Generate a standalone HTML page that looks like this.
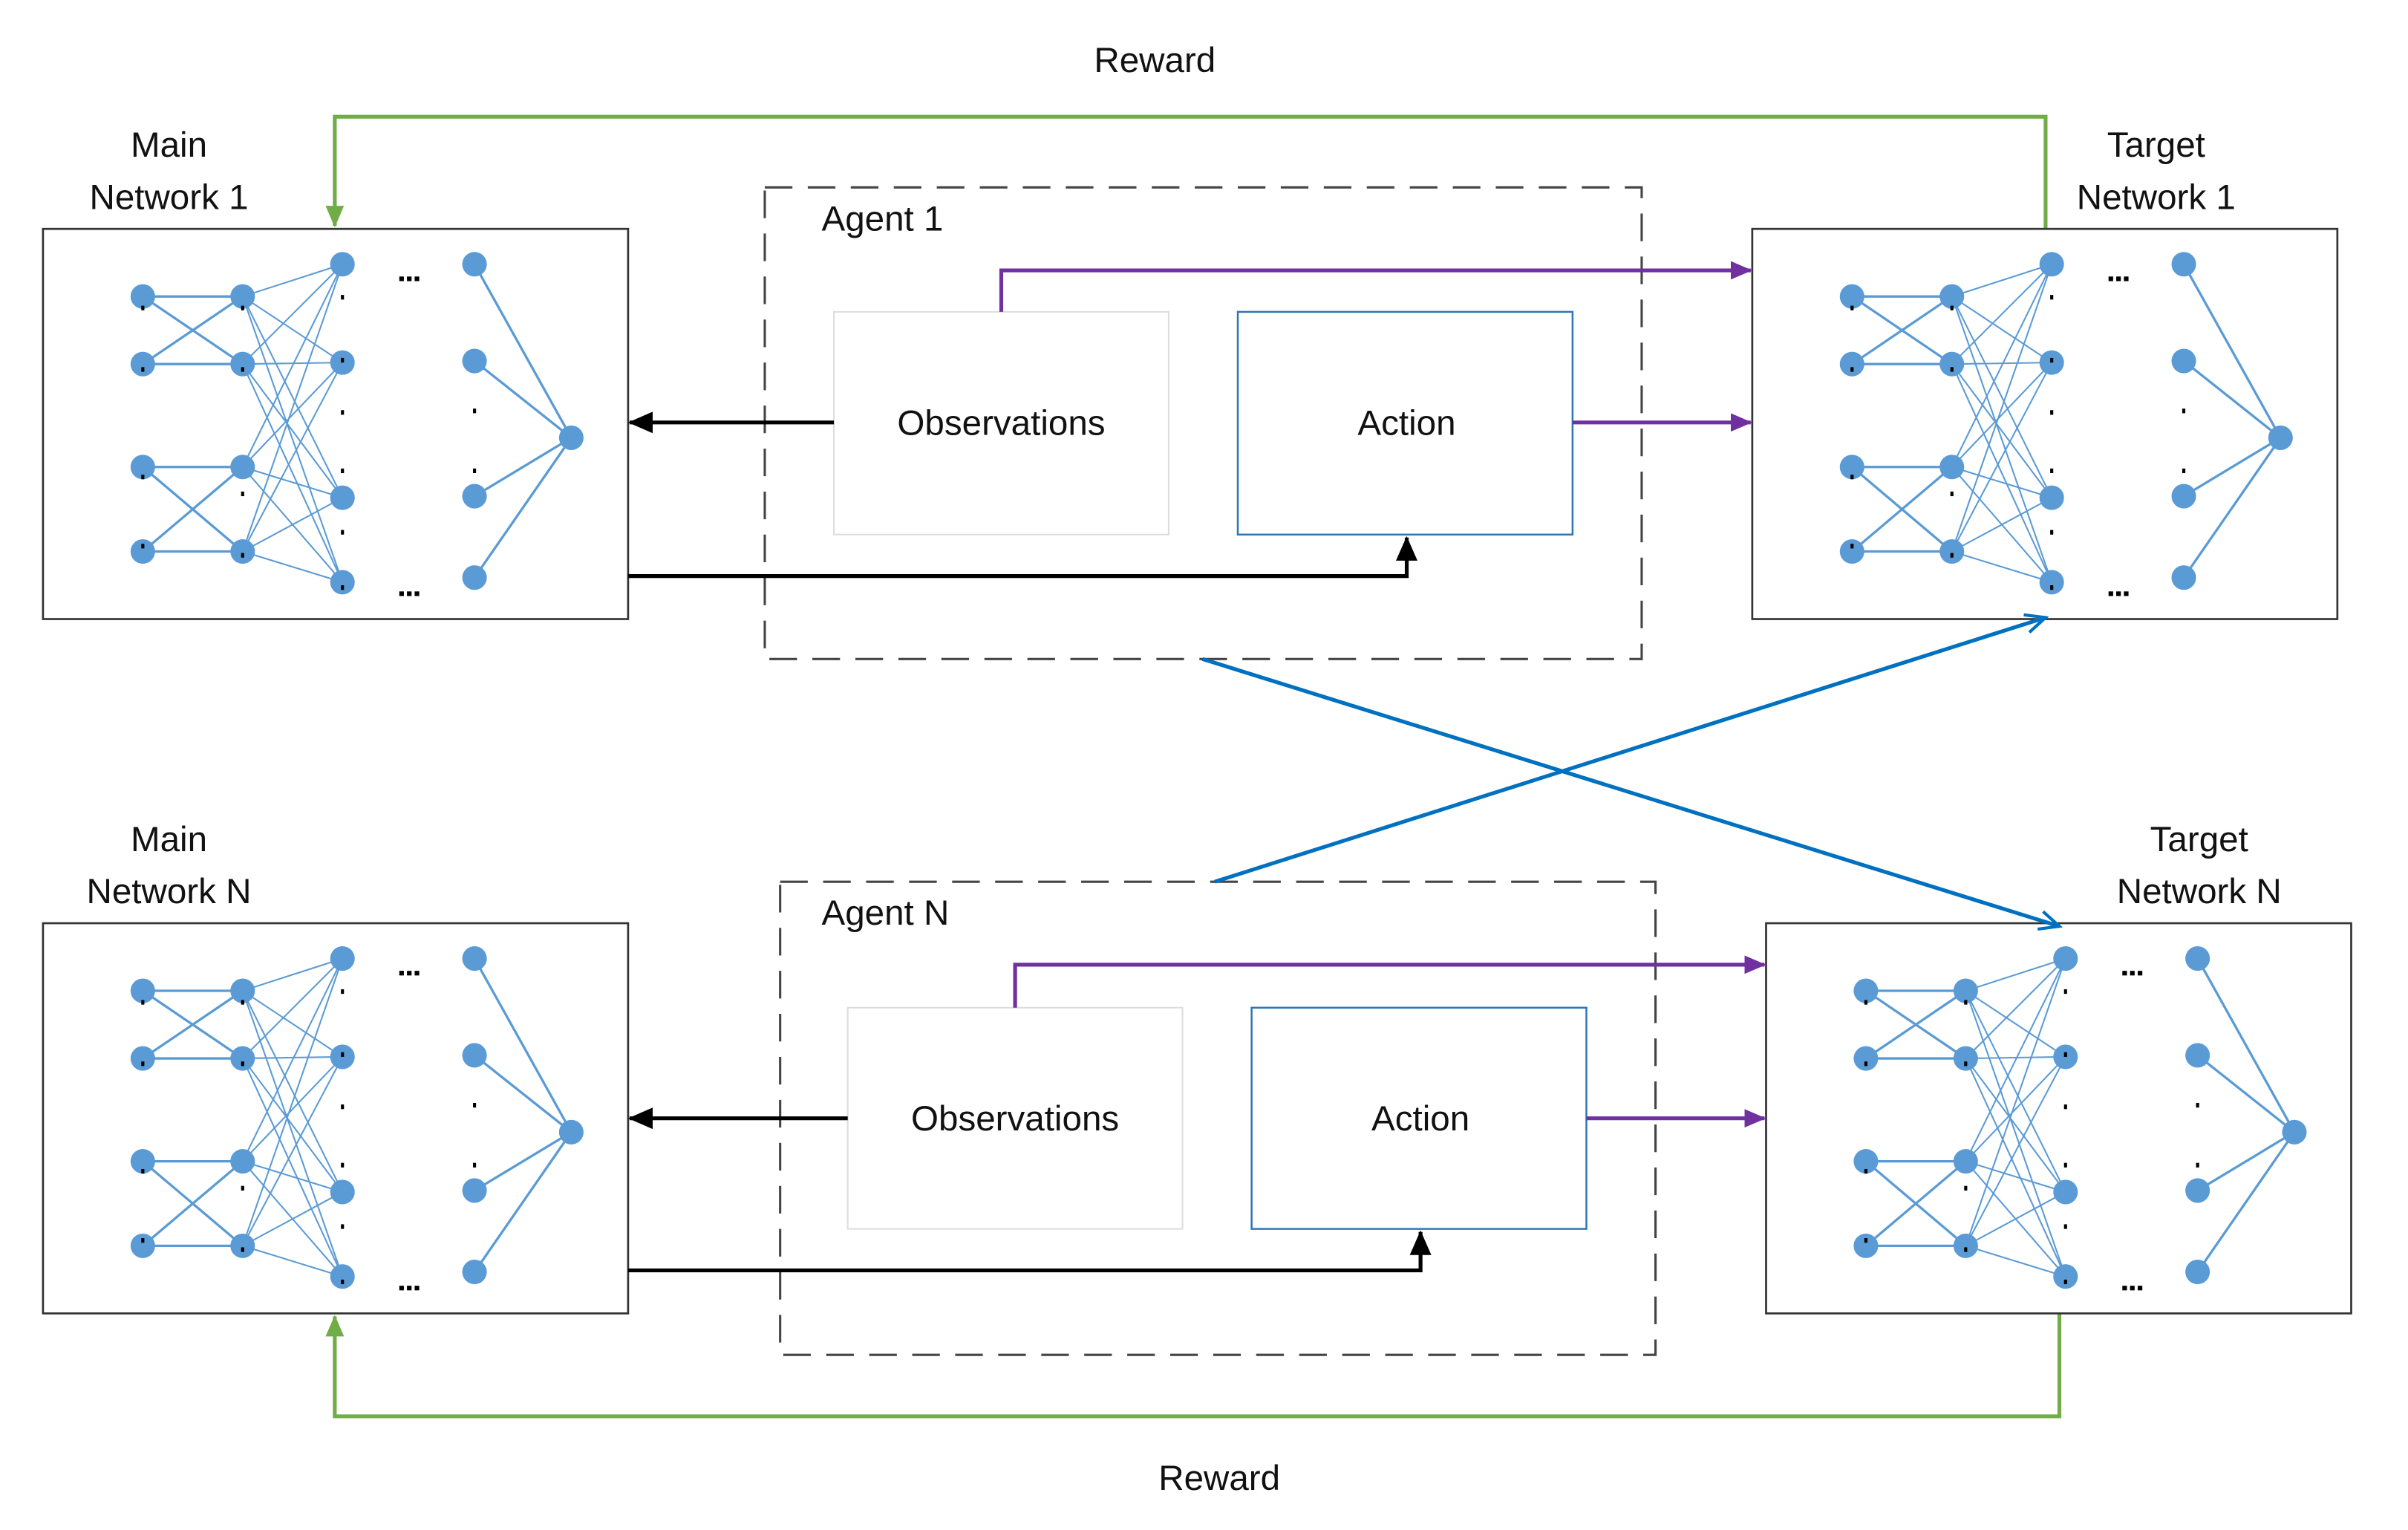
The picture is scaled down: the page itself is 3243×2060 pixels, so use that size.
<!DOCTYPE html>
<html><head><meta charset="utf-8"><style>
html,body{margin:0;padding:0;background:#fff;}
svg{display:block;}
text{font-family:"Liberation Sans",sans-serif;font-size:23px;fill:#111;}
</style></head><body>
<svg width="3243" height="2060" viewBox="0 0 1568 996" xmlns="http://www.w3.org/2000/svg">
<defs>
<marker id="ap" markerWidth="14" markerHeight="12" refX="13" refY="6" orient="auto" markerUnits="userSpaceOnUse"><path d="M0,0 L14,6 L0,12 z" fill="#7030a0"/></marker>
<marker id="ag" markerWidth="14" markerHeight="12" refX="13" refY="6" orient="auto" markerUnits="userSpaceOnUse"><path d="M0,0 L14,6 L0,12 z" fill="#70ad47"/></marker>
<marker id="abk" markerWidth="16" markerHeight="14" refX="15" refY="7" orient="auto" markerUnits="userSpaceOnUse"><path d="M0,0 L16,7 L0,14 z" fill="#000"/></marker>
<marker id="abl" markerWidth="16" markerHeight="14" refX="14" refY="7" orient="auto" markerUnits="userSpaceOnUse"><path d="M1,1 L14,7 L1,13" fill="none" stroke="#0070c0" stroke-width="2"/></marker>
<g id="net">
<rect x="0" y="0" width="381" height="254" fill="#fff" stroke="#333" stroke-width="1.3"/>
<g stroke="#5b9bd5" stroke-width="1.6">
<line x1="65" y1="44" x2="130" y2="44"/><line x1="65" y1="44" x2="130" y2="88"/><line x1="65" y1="88" x2="130" y2="44"/><line x1="65" y1="88" x2="130" y2="88"/>
<line x1="65" y1="155" x2="130" y2="155"/><line x1="65" y1="155" x2="130" y2="210"/><line x1="65" y1="210" x2="130" y2="155"/><line x1="65" y1="210" x2="130" y2="210"/>
<line x1="281" y1="23" x2="344" y2="136"/><line x1="281" y1="86" x2="344" y2="136"/><line x1="281" y1="174" x2="344" y2="136"/><line x1="281" y1="227" x2="344" y2="136"/>
</g>
<g stroke="#5b9bd5" stroke-width="1">
<line x1="130" y1="44" x2="195" y2="23"/><line x1="130" y1="44" x2="195" y2="87"/><line x1="130" y1="44" x2="195" y2="175"/><line x1="130" y1="44" x2="195" y2="230"/>
<line x1="130" y1="88" x2="195" y2="23"/><line x1="130" y1="88" x2="195" y2="87"/><line x1="130" y1="88" x2="195" y2="175"/><line x1="130" y1="88" x2="195" y2="230"/>
<line x1="130" y1="155" x2="195" y2="23"/><line x1="130" y1="155" x2="195" y2="87"/><line x1="130" y1="155" x2="195" y2="175"/><line x1="130" y1="155" x2="195" y2="230"/>
<line x1="130" y1="210" x2="195" y2="23"/><line x1="130" y1="210" x2="195" y2="87"/><line x1="130" y1="210" x2="195" y2="175"/><line x1="130" y1="210" x2="195" y2="230"/>
</g>
<g fill="#5b9bd5">
<circle cx="65" cy="44" r="8"/><circle cx="65" cy="88" r="8"/><circle cx="65" cy="155" r="8"/><circle cx="65" cy="210" r="8"/>
<circle cx="130" cy="44" r="8"/><circle cx="130" cy="88" r="8"/><circle cx="130" cy="155" r="8"/><circle cx="130" cy="210" r="8"/>
<circle cx="195" cy="23" r="8"/><circle cx="195" cy="87" r="8"/><circle cx="195" cy="175" r="8"/><circle cx="195" cy="230" r="8"/>
<circle cx="281" cy="23" r="8"/><circle cx="281" cy="86" r="8"/><circle cx="281" cy="174" r="8"/><circle cx="281" cy="227" r="8"/>
<circle cx="344" cy="136" r="8"/>
</g>
<g fill="#000">
<rect x="64" y="50" width="2" height="3"/><rect x="64" y="90" width="2" height="3"/><rect x="64" y="160" width="2" height="3"/><rect x="64" y="205" width="2" height="3"/>
<rect x="129" y="50" width="2" height="3"/><rect x="129" y="90" width="2" height="3"/><rect x="129" y="171" width="2" height="3"/><rect x="129" y="211" width="2" height="3"/>
<rect x="194" y="43" width="2" height="3"/><rect x="194" y="84" width="2" height="3"/><rect x="194" y="118" width="2" height="3"/><rect x="194" y="156" width="2" height="3"/><rect x="194" y="196" width="2" height="3"/><rect x="194" y="232" width="2" height="3"/>
<rect x="280" y="117" width="2" height="3"/><rect x="280" y="156" width="2" height="3"/>
<rect x="232" y="31" width="3" height="3"/><rect x="237" y="31" width="3" height="3"/><rect x="242" y="31" width="3" height="3"/>
<rect x="232" y="236" width="3" height="3"/><rect x="237" y="236" width="3" height="3"/><rect x="242" y="236" width="3" height="3"/>
</g>
</g>
</defs>

<polyline points="1332,149 1332,76 218,76 218,147" fill="none" stroke="#70ad47" stroke-width="2.5" marker-end="url(#ag)"/>
<polyline points="1341,855 1341,922 218,922 218,857" fill="none" stroke="#70ad47" stroke-width="2.5" marker-end="url(#ag)"/>

<use href="#net" x="28" y="149"/>
<use href="#net" x="28" y="601"/>
<use href="#net" x="1141" y="149"/>
<use href="#net" x="1150" y="601"/>

<rect x="498" y="122" width="571" height="307" fill="none" stroke="#444" stroke-width="1.5" stroke-dasharray="18,10"/>
<rect x="508" y="574" width="570" height="308" fill="none" stroke="#444" stroke-width="1.5" stroke-dasharray="18,10"/>
<rect x="543" y="203" width="218" height="145" fill="#fff" stroke="#ddd" stroke-width="1"/>
<rect x="806" y="203" width="218" height="145" fill="#fff" stroke="#2e75b6" stroke-width="1.2"/>
<rect x="552" y="656" width="218" height="144" fill="#fff" stroke="#ddd" stroke-width="1"/>
<rect x="815" y="656" width="218" height="144" fill="#fff" stroke="#2e75b6" stroke-width="1.2"/>

<line x1="543" y1="275" x2="410" y2="275" stroke="#000" stroke-width="2.5" marker-end="url(#abk)"/>
<polyline points="409,375 916,375 916,350" fill="none" stroke="#000" stroke-width="2.5" marker-end="url(#abk)"/>
<line x1="552" y1="728" x2="410" y2="728" stroke="#000" stroke-width="2.5" marker-end="url(#abk)"/>
<polyline points="409,827 925,827 925,802" fill="none" stroke="#000" stroke-width="2.5" marker-end="url(#abk)"/>

<polyline points="652,203 652,176 1140,176" fill="none" stroke="#7030a0" stroke-width="2.5" marker-end="url(#ap)"/>
<line x1="1024" y1="275" x2="1140" y2="275" stroke="#7030a0" stroke-width="2.5" marker-end="url(#ap)"/>
<polyline points="661,656 661,628 1149,628" fill="none" stroke="#7030a0" stroke-width="2.5" marker-end="url(#ap)"/>
<line x1="1033" y1="728" x2="1149" y2="728" stroke="#7030a0" stroke-width="2.5" marker-end="url(#ap)"/>

<line x1="783" y1="429" x2="1341" y2="603" stroke="#0070c0" stroke-width="2.5" marker-end="url(#abl)"/>
<line x1="791" y1="574" x2="1332" y2="402" stroke="#0070c0" stroke-width="2.5" marker-end="url(#abl)"/>

<text x="752" y="47" text-anchor="middle">Reward</text>
<text x="794" y="970" text-anchor="middle">Reward</text>
<text x="110" y="102" text-anchor="middle">Main</text>
<text x="110" y="136" text-anchor="middle">Network  1</text>
<text x="1404" y="102" text-anchor="middle">Target</text>
<text x="1404" y="136" text-anchor="middle">Network 1</text>
<text x="110" y="554" text-anchor="middle">Main</text>
<text x="110" y="588" text-anchor="middle">Network  N</text>
<text x="1432" y="554" text-anchor="middle">Target</text>
<text x="1432" y="588" text-anchor="middle">Network N</text>
<text x="535" y="150">Agent 1</text>
<text x="535" y="602">Agent N</text>
<text x="652" y="283" text-anchor="middle">Observations</text>
<text x="916" y="283" text-anchor="middle">Action</text>
<text x="661" y="736" text-anchor="middle">Observations</text>
<text x="925" y="736" text-anchor="middle">Action</text>
</svg>
</body></html>
